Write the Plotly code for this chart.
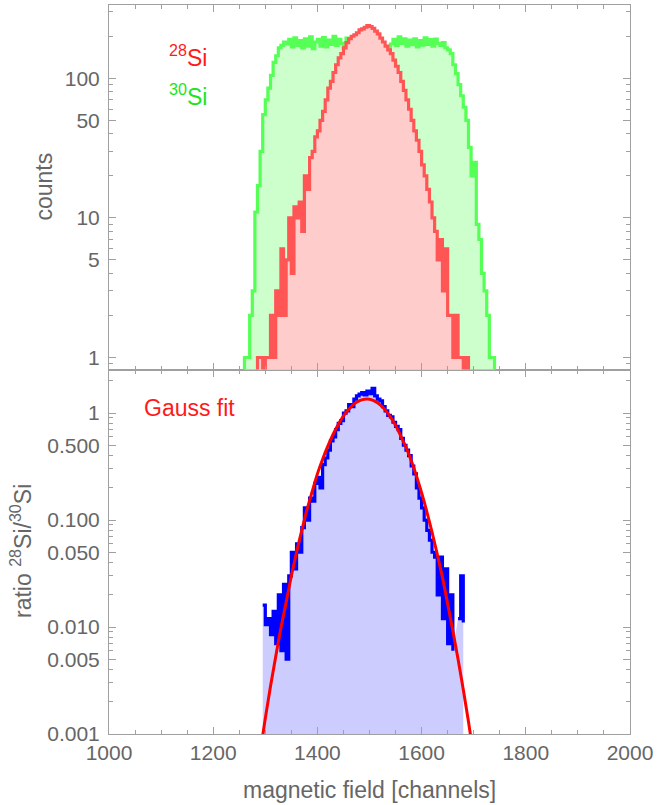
import plotly.graph_objects as go

# ---------------- data ----------------
ch_30si = list(range(1255, 1745, 5))
counts_30si = [0, 1, 1, 2, 3, 11, 17, 30, 55, 70, 85, 105, 130, 145, 165, 172, 182,
               176, 190, 168, 195, 172, 186, 165, 192, 170, 198, 163, 182, 190, 170, 196, 168,
               188, 175, 200, 172, 190, 178, 166, 194, 174, 187, 170, 191, 176, 185, 171, 189,
               175, 166, 182, 160, 174, 158, 168, 162, 176, 190, 172, 198, 178, 192, 170, 188,
               174, 192, 168, 186, 173, 195, 175, 189, 170, 191, 178, 172, 180, 165,
               160, 150, 125, 108, 90, 75, 62, 50, 32, 20, 25, 9, 7, 4, 3, 2, 1, 1, 0]

ch_28si = list(range(1280, 1700, 5))
counts_28si = [0, 1, 1, 0, 1, 1, 2, 1, 3, 2, 6, 2, 5, 10, 4, 12, 10, 13, 8, 20, 16, 27,
               30, 38, 42, 50, 58, 70, 85, 95, 110, 125, 140, 150, 165, 180, 192, 200, 205,
               212, 222, 226, 232, 238, 235, 228, 218, 208, 194, 182, 170, 160, 150, 135,
               122, 110, 95, 82, 70, 60, 50, 42, 36, 30, 24, 20, 16, 13, 10, 8, 5, 7, 3, 6,
               2, 2, 1, 2, 1, 1, 0, 1, 0, 0]

ch_ratio = list(range(1295, 1685, 5))
ratio = [0.016, 0.0105, 0.012, 0.0085, 0.014, 0.007, 0.02, 0.006, 0.025, 0.005, 0.03,
         0.05, 0.035, 0.06, 0.05, 0.085, 0.13, 0.1, 0.16, 0.15, 0.22, 0.25, 0.2, 0.33,
         0.38, 0.45, 0.55, 0.6, 0.7, 0.8, 0.85, 1.0, 1.05, 1.2, 1.15, 1.35, 1.45, 1.5,
         1.55, 1.48, 1.6, 1.52, 1.7, 1.45, 1.35, 1.3, 1.15, 1.05, 0.95, 0.92, 0.82, 0.75,
         0.7, 0.58, 0.5, 0.45, 0.4, 0.32, 0.27, 0.2, 0.16, 0.13, 0.1, 0.08, 0.065, 0.05,
         0.045, 0.02, 0.045, 0.012, 0.035, 0.007, 0.02, 0.006, None, 0.012, 0.03, 0.011]

ch_fit = list(range(1290, 1710, 10))
gauss_fit = [0.00067, 0.0014, 0.0028, 0.0053, 0.0098, 0.017, 0.030, 0.050, 0.080, 0.125,
             0.185, 0.27, 0.37, 0.49, 0.63, 0.78, 0.94, 1.08, 1.21, 1.30, 1.345, 1.345,
             1.29, 1.20, 1.07, 0.92, 0.77, 0.61, 0.48, 0.36, 0.26, 0.18, 0.12, 0.077,
             0.048, 0.029, 0.0165, 0.0092, 0.0050, 0.0026, 0.0013, 0.00062]

x_ticks = [1000, 1200, 1400, 1600, 1800, 2000]
x_minor = [v for v in range(1000, 2001, 50) if v not in x_ticks]
top_ticks = [1, 5, 10, 50, 100]
top_minor = [0.9, 2, 3, 4, 6, 7, 8, 9, 20, 30, 40, 60, 70, 80, 90, 200, 300]
bot_ticks = [0.001, 0.005, 0.01, 0.05, 0.1, 0.5, 1]
bot_ticktext = ["0.001", "0.005", "0.010", "0.050", "0.100", "0.500", "1"]
bot_minor = [0.002, 0.003, 0.004, 0.006, 0.007, 0.008, 0.009,
             0.02, 0.03, 0.04, 0.06, 0.07, 0.08, 0.09,
             0.2, 0.3, 0.4, 0.6, 0.7, 0.8, 0.9, 2]

# zero counts cannot be shown on a log axis: draw them below the visible range
FLOOR = 0.3
g_y = [c if c > 0 else FLOOR for c in counts_30si]
r_y = [c if c > 0 else FLOOR for c in counts_28si]

FRAME = "#a0a0a0"
TXT = "#666666"
FONT = "Liberation Sans, Arial, sans-serif"

fig = go.Figure()
fig.add_trace(go.Scatter(x=ch_30si, y=g_y, xaxis="x2", yaxis="y2", mode="lines",
                         line=dict(color="#55FF55", width=3.2, shape="hv"),
                         fill="tozeroy", fillcolor="#CCFFCC", showlegend=False))
fig.add_trace(go.Scatter(x=ch_28si, y=r_y, xaxis="x2", yaxis="y2", mode="lines",
                         line=dict(color="#FF5555", width=3.2, shape="hv"),
                         fill="tozeroy", fillcolor="#FFCCCC", showlegend=False))
fig.add_trace(go.Scatter(x=ch_ratio, y=ratio, xaxis="x", yaxis="y", mode="lines",
                         line=dict(color="#0000FF", width=3.2, shape="hv"),
                         fill="tozeroy", fillcolor="#CCCCFF", showlegend=False))
fig.add_trace(go.Scatter(x=ch_fit, y=gauss_fit, xaxis="x", yaxis="y", mode="lines",
                         line=dict(color="#FF0000", width=3, shape="spline"),
                         showlegend=False))

axis_common = dict(showline=True, linecolor=FRAME, linewidth=1, mirror="allticks",
                   ticks="inside", tickcolor=FRAME, showgrid=False, zeroline=False,
                   tickfont=dict(family=FONT, size=21, color=TXT))

fig.update_layout(
    width=657, height=805,
    margin=dict(l=109, r=27, t=5, b=71),
    plot_bgcolor="white", paper_bgcolor="white",
    font=dict(family=FONT, color=TXT),
    xaxis=dict(axis_common, domain=[0, 1], anchor="y", range=[1000, 2000],
               tickmode="array", tickvals=x_ticks, ticklen=7,
               minor=dict(tickmode="array", tickvals=x_minor, ticks="inside",
                          ticklen=4, tickcolor=FRAME)),
    xaxis2=dict(axis_common, domain=[0, 1], anchor="y2", range=[1000, 2000],
                matches="x", showticklabels=False,
                tickmode="array", tickvals=x_ticks, ticklen=7,
                minor=dict(tickmode="array", tickvals=x_minor, ticks="inside",
                           ticklen=4, tickcolor=FRAME)),
    yaxis=dict(axis_common, domain=[0, 0.5], anchor="x", type="log", range=[-3, 0.407],
               tickmode="array", tickvals=bot_ticks, ticktext=bot_ticktext, ticklen=7,
               ticklabelstandoff=4,
               minor=dict(tickmode="array", tickvals=bot_minor, ticks="inside",
                          ticklen=4, tickcolor=FRAME)),
    yaxis2=dict(axis_common, domain=[0.5, 1], anchor="x2", type="log", range=[-0.086, 2.525],
                tickmode="array", tickvals=top_ticks, ticktext=[str(v) for v in top_ticks],
                ticklen=7, ticklabelstandoff=4,
                minor=dict(tickmode="array", tickvals=top_minor, ticks="inside",
                           ticklen=4, tickcolor=FRAME)),
)

ann = [
    dict(text="<sup>28</sup>Si", x=0.111, y=0.930, font=dict(color="#FF1A1A", size=23),
         xanchor="left", yanchor="middle", textangle=0),
    dict(text="<sup>30</sup>Si", x=0.111, y=0.877, font=dict(color="#1AE61A", size=23),
         xanchor="left", yanchor="middle", textangle=0),
    dict(text="Gauss fit", x=0.063, y=0.447, font=dict(color="#FF1A1A", size=23),
         xanchor="left", yanchor="middle", textangle=0),
    dict(text="counts", x=-0.1248, y=0.751, font=dict(color=TXT, size=23),
         xanchor="center", yanchor="middle", textangle=-90),
    dict(text="ratio <sup>28</sup>Si/<sup>30</sup>Si", x=-0.169, y=0.251,
         font=dict(color=TXT, size=23), xanchor="center", yanchor="middle", textangle=-90),
    dict(text="magnetic field [channels]", x=0.5, y=-0.0768,
         font=dict(color=TXT, size=23), xanchor="center", yanchor="middle", textangle=0),
]
for a in ann:
    a.update(xref="paper", yref="paper", showarrow=False)
    a["font"]["family"] = FONT
fig.update_layout(annotations=ann)

fig.write_html("out.html")
